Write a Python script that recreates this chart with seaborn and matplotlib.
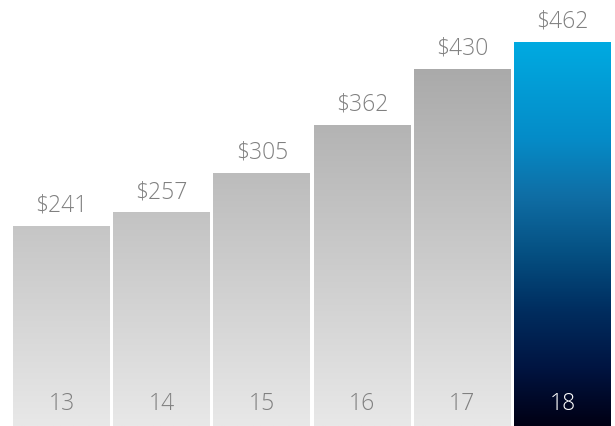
import numpy as np
import pandas as pd
import seaborn as sns
import matplotlib
matplotlib.use("Agg")
import matplotlib.pyplot as plt
from matplotlib.colors import LinearSegmentedColormap

years = ["13", "14", "15", "16", "17", "18"]
values = [241, 257, 305, 362, 430, 462]
value_labels = ["$241", "$257", "$305", "$362", "$430", "$462"]

sns.set_style("white")
plt.rcParams["font.family"] = ["Open Sans", "DejaVu Sans"]

fig = plt.figure(figsize=(6.15, 4.26), dpi=100)
ax = fig.add_axes([0, 0, 1, 1])

df = pd.DataFrame({"year": years, "value": values})
sns.barplot(data=df, x="year", y="value", ax=ax, width=0.968, color="#c8c8c8",
            edgecolor="none", linewidth=0)

ymax = 512.6
ax.set_xlim(-0.614, 5.524)
ax.set_ylim(0, ymax)

# vertical gradients: grey spans the whole height, blue only the last bar
gray = LinearSegmentedColormap.from_list("g", ["#e8e8e8", "#9e9e9e"])
blue = LinearSegmentedColormap.from_list(
    "b", [(0.0, "#000014"), (0.15, "#001441"), (0.3, "#002d5f"),
          (0.45, "#055082"), (0.6, "#0f6ea5"), (0.75, "#058cc8"),
          (1.0, "#00aae1")])
grad = np.linspace(0, 1, 256).reshape(-1, 1)

for i, patch in enumerate(ax.patches):
    x0 = patch.get_x()
    w = patch.get_width()
    h = patch.get_height()
    patch.set_facecolor("none")
    if i == len(values) - 1:
        im = ax.imshow(grad, cmap=blue, origin="lower", aspect="auto",
                       extent=[x0, x0 + w, 0, h], zorder=1)
    else:
        im = ax.imshow(grad, cmap=gray, origin="lower", aspect="auto",
                       extent=[x0, x0 + w, 0, ymax], zorder=1)
    im.set_clip_path(patch)

ax.set_xlim(-0.614, 5.524)
ax.set_ylim(0, ymax)

for i, (v, lab) in enumerate(zip(values, value_labels)):
    ax.text(i, v + 10, lab, ha="center", va="bottom", fontsize=16.5,
            fontweight="light", color="#808080", zorder=3)
    ax.text(i, 26, years[i], ha="center", va="center", fontsize=16.5,
            fontweight="light",
            color="white" if i == len(values) - 1 else "#808080", zorder=3)

ax.set_axis_off()
fig.savefig("out.png", dpi=100)
